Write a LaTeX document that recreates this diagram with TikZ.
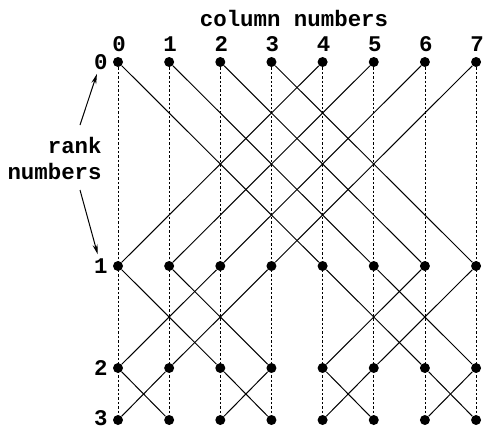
\documentclass[tikz,border=0pt]{standalone}
\usepackage{fontspec}
\setmonofont{Liberation Mono}
\usetikzlibrary{arrows.meta}
\begin{document}
\begin{tikzpicture}[x=0.5pt, y=-0.5pt,
    dot/.style={circle, fill=black, inner sep=0pt, minimum size=5pt},
    lbl/.style={font=\fontsize{11.2}{13}\ttfamily\bfseries, inner sep=1pt},
    wire/.style={line width=0.5pt},
    vline/.style={line width=0.4pt, dash pattern=on 1.2pt off 1pt}]
    \useasboundingbox (0,0) rectangle (485,428);

    % 四行八列的节点
    \foreach \r/\y in {0/62, 1/266, 2/368, 3/420} {
        \foreach \c in {0,...,7} {
            \node[dot] (n\r\c) at ({118+51.15*\c}, \y) {};
        }
    }
    % 行号
    \foreach \r/\y in {0/62, 1/266, 2/368, 3/418}
        \node[lbl, anchor=east] (rk\r) at (110, \y) {\r};

    % 列号
    \foreach \c in {0,...,7}
        \node[lbl] (col\c) at ({119+51.15*\c}, 44) {\c};
    \node[lbl] (coltitle) at (294, 18) {column numbers};

    % 竖直虚线
    \foreach \c in {0,...,7}
        \draw[vline] (n0\c) -- (n3\c);

    % 第 0 行到第 1 行：跨 4 列
    \foreach \a/\b in {0/4, 1/5, 2/6, 3/7} {
        \draw[wire] (n0\a) -- (n1\b);
        \draw[wire] (n0\b) -- (n1\a);
    }
    % 第 1 行到第 2 行：跨 2 列
    \foreach \a/\b in {0/2, 1/3, 4/6, 5/7} {
        \draw[wire] (n1\a) -- (n2\b);
        \draw[wire] (n1\b) -- (n2\a);
    }
    % 第 2 行到第 3 行：跨 1 列
    \foreach \a/\b in {0/1, 2/3, 4/5, 6/7} {
        \draw[wire] (n2\a) -- (n3\b);
        \draw[wire] (n2\b) -- (n3\a);
    }

    % 行号说明
    \node[lbl, align=right, anchor=east] (ranktitle) at (104, 158) {rank\\numbers};
    \coordinate (up) at (80, 125);
    \coordinate (down) at (80, 190);
    \draw[wire, -{Stealth[length=5pt, width=2.5pt]}, shorten >=1pt] (up) -- (rk0);
    \draw[wire, -{Stealth[length=5pt, width=2.5pt]}, shorten >=1pt] (down) -- (rk1);
\end{tikzpicture}
\end{document}
